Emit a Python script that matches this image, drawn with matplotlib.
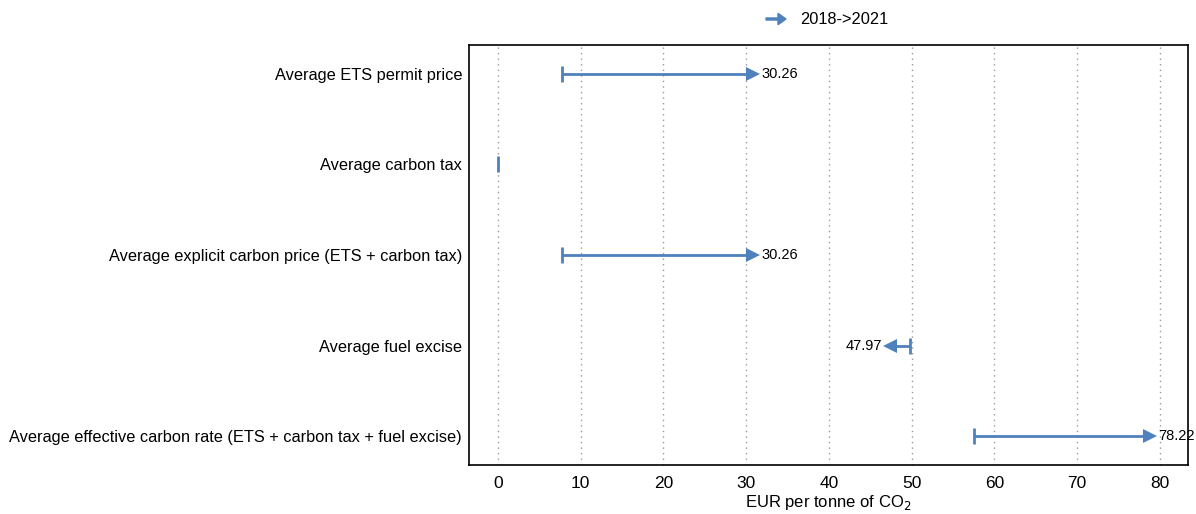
import matplotlib
matplotlib.use("Agg")
import matplotlib.pyplot as plt
import matplotlib.transforms as mtrans
from matplotlib import font_manager

# %% Data
categories = [
    "Average ETS permit price",
    "Average carbon tax",
    "Average explicit carbon price (ETS + carbon tax)",
    "Average fuel excise",
    "Average effective carbon rate (ETS + carbon tax + fuel excise)",
]
values_2018 = [7.7, 0.0, 7.7, 49.8, 57.5]
values_2021 = [30.26, 0.0, 30.26, 47.97, 78.22]
labels_2021 = ["30.26", "", "30.26", "47.97", "78.22"]
x_ticks = [0, 10, 20, 30, 40, 50, 60, 70, 80]

# %% Style
names = {f.name for f in font_manager.fontManager.ttflist}
fam = "Liberation Sans Narrow" if "Liberation Sans Narrow" in names else "Liberation Sans"
plt.rcParams["font.family"] = [fam, "DejaVu Sans"]
blue = "#4F81BD"

fig = plt.figure(figsize=(11.96, 5.14), dpi=100)
ax = fig.add_axes([469 / 1196, 1 - 465 / 514, (1188 - 469) / 1196, (465 - 45) / 514])

for i, (s, e, lab) in enumerate(zip(values_2018, values_2021, labels_2021)):
    ax.plot([s, e], [i, i], color=blue, lw=2, solid_capstyle="butt", zorder=3)
    ax.plot(s, i, marker="|", ms=11, mew=2, color=blue, zorder=3)
    if e == s:
        continue
    d = 1 if e > s else -1
    tr = mtrans.offset_copy(ax.transData, fig=fig, x=5 * d, y=0, units="dots")
    ax.plot(e, i, marker=">" if d > 0 else "<", ms=10, color=blue, mew=0,
            transform=tr, zorder=4)
    tr2 = mtrans.offset_copy(ax.transData, fig=fig, x=13 * d, y=0, units="dots")
    ax.text(e, i, lab, transform=tr2, ha="left" if d > 0 else "right",
            va="center", fontsize=10.5, zorder=5)

ax.set_xlim(-3.5, 83.4)
ax.set_ylim(4.32, -0.32)
ax.set_yticks(range(len(categories)))
ax.set_yticklabels(categories, fontsize=11.8)
ax.set_xticks(x_ticks)
ax.set_xticklabels([str(t) for t in x_ticks], fontsize=12.5)
ax.tick_params(axis="y", length=0, pad=5)
ax.tick_params(axis="x", length=0, pad=8)
ax.grid(axis="x", color="#999999", linestyle=(0, (1, 3)), lw=1)
ax.set_axisbelow(True)
for sp in ax.spines.values():
    sp.set_linewidth(1.2)
ax.set_xlabel("EUR per tonne of CO$_2$", fontsize=12, labelpad=1)

# legend
fig.patches.append(matplotlib.patches.FancyArrow(
    766 / 1196, 1 - 19 / 514, 20 / 1196, 0, width=0.004, head_width=0.022,
    head_length=8 / 1196, length_includes_head=True, color=blue,
    transform=fig.transFigure))
fig.text(800 / 1196, 1 - 19 / 514, "2018->2021", fontsize=11.8, va="center", ha="left")

fig.savefig("out.png", dpi=100)
